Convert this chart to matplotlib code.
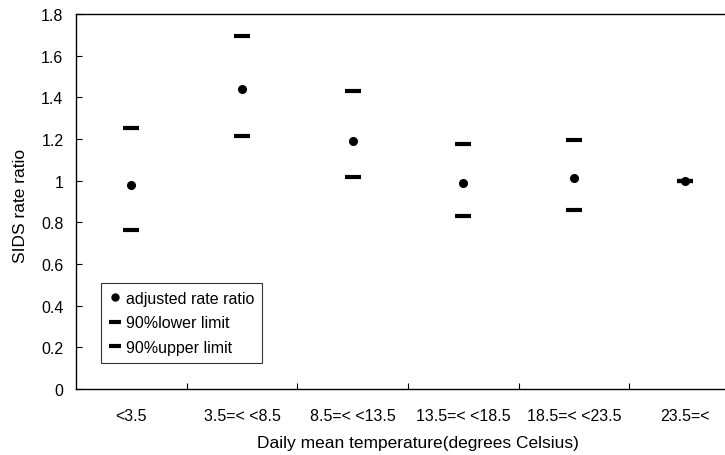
import matplotlib
matplotlib.use("Agg")
import matplotlib.pyplot as plt
from matplotlib.lines import Line2D

plt.rcParams['font.family'] = ['Liberation Sans', 'DejaVu Sans']

categories = ["<3.5", "3.5=< <8.5", "8.5=< <13.5", "13.5=< <18.5", "18.5=< <23.5", "23.5=<"]
adjusted_rate_ratio = [0.98, 1.44, 1.19, 0.99, 1.015, 1.0]
lower_limit_90 = [0.765, 1.215, 1.018, 0.83, 0.86, 1.0]
upper_limit_90 = [1.255, 1.695, 1.43, 1.175, 1.195, 1.0]
yticks = [0, 0.2, 0.4, 0.6, 0.8, 1.0, 1.2, 1.4, 1.6, 1.8]
ytick_labels = ["0", "0.2", "0.4", "0.6", "0.8", "1", "1.2", "1.4", "1.6", "1.8"]

fig = plt.figure(figsize=(7.25, 4.56), dpi=100)
ax = fig.add_axes([76/725, 1 - 390/456, 664/725, 375/456])

x = list(range(len(categories)))
ax.plot(x, upper_limit_90, linestyle='none', marker='_', markersize=11, mew=3, color='black')
ax.plot(x, lower_limit_90, linestyle='none', marker='_', markersize=11, mew=3, color='black')
ax.plot(x, adjusted_rate_ratio, linestyle='none', marker='o', markersize=5.5, color='black')

ax.set_xlim(-0.5, len(categories) - 0.5)
ax.set_ylim(0, 1.8)
ax.set_yticks(yticks)
ax.set_yticklabels(ytick_labels)
ax.set_xticks(x)
ax.set_xticklabels(categories)
ax.set_xticks([i + 0.5 for i in range(len(categories))], minor=True)

ax.tick_params(axis='y', direction='in', length=4, width=0.8, labelsize=11.5, pad=9)
ax.tick_params(axis='x', which='major', length=0, labelsize=11.5, pad=14)
ax.tick_params(axis='x', which='minor', direction='in', length=4, width=0.8)
for s in ax.spines.values():
    s.set_linewidth(1.0)

ax.set_ylabel("SIDS rate ratio", fontsize=12.5)
ax.yaxis.set_label_coords(-48/664, 0.49)
ax.set_xlabel("Daily mean temperature(degrees Celsius)", fontsize=12.5)
ax.xaxis.set_label_coords((418 - 76)/664, -46/375)

handles = [
    Line2D([], [], linestyle='none', marker='o', markersize=5, color='black'),
    Line2D([], [], linestyle='none', marker='_', markersize=9, mew=3, color='black'),
    Line2D([], [], linestyle='none', marker='_', markersize=9, mew=3, color='black'),
]
leg = ax.legend(handles, ["adjusted rate ratio", "90%lower limit", "90%upper limit"],
                loc='lower left', bbox_to_anchor=(25/664, 26/375), borderaxespad=0,
                fontsize=11.5, frameon=True, fancybox=False, handlelength=0.8,
                handletextpad=0.25, labelspacing=0.6, borderpad=0.5)
leg.get_frame().set_edgecolor('black')
leg.get_frame().set_linewidth(0.8)

fig.savefig("out.png", dpi=100)
